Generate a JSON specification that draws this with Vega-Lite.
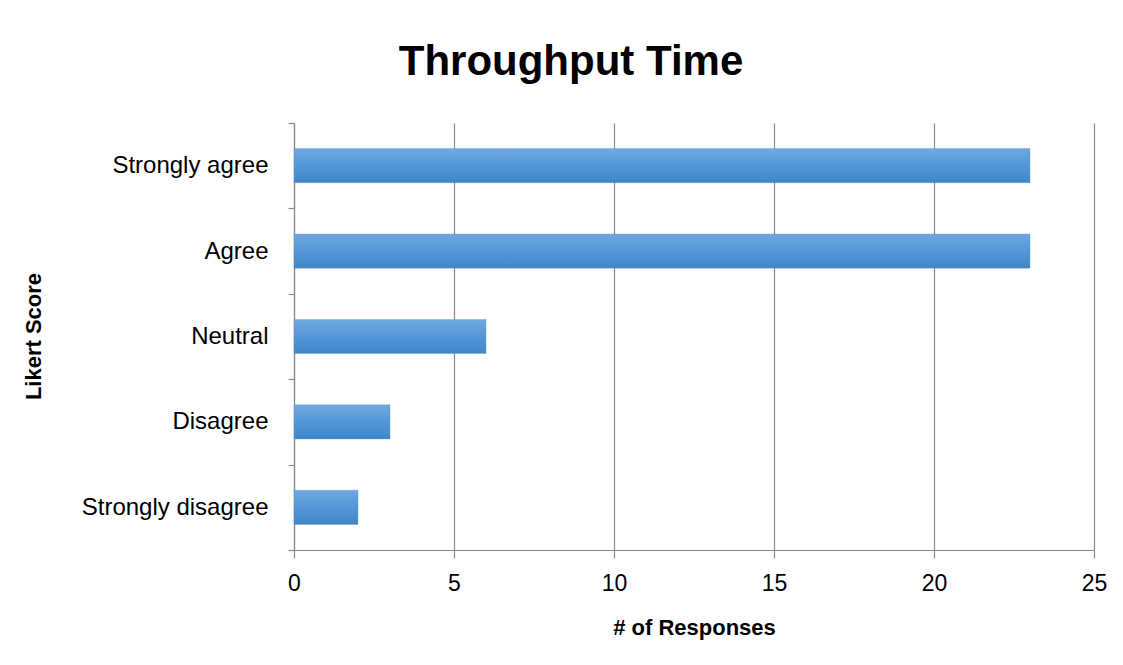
{
  "$schema": "https://vega.github.io/schema/vega-lite/v6.json",
  "autosize": {"type": "none"},
  "width": 800,
  "height": 427,
  "padding": {"left": 294, "top": 123, "right": 29, "bottom": 115},
  "background": "white",
  "title": {
    "text": "Throughput Time",
    "font": "Liberation Sans",
    "fontSize": 42,
    "fontWeight": "bold",
    "color": "black",
    "anchor": "middle",
    "frame": "group",
    "baseline": "alphabetic",
    "offset": -6,
    "dx": -123
  },
  "data": {
    "values": [
      {"score": "Strongly agree", "responses": 23},
      {"score": "Agree", "responses": 23},
      {"score": "Neutral", "responses": 6},
      {"score": "Disagree", "responses": 3},
      {"score": "Strongly disagree", "responses": 2}
    ]
  },
  "mark": {
    "type": "bar",
    "height": {"band": 0.4},
    "color": {
      "gradient": "linear",
      "x1": 0, "y1": 0, "x2": 0, "y2": 1,
      "stops": [
        {"offset": 0, "color": "#70a8de"},
        {"offset": 0.5, "color": "#5497d8"},
        {"offset": 1, "color": "#3f86c9"}
      ]
    },
    "stroke": "#5a8cc0",
    "strokeWidth": 0.5,
    "strokeOpacity": 0.6
  },
  "encoding": {
    "y": {
      "field": "score",
      "type": "nominal",
      "sort": null,
      "scale": {"paddingInner": 0, "paddingOuter": 0},
      "axis": {
        "title": "Likert Score",
        "titleFont": "Liberation Sans",
        "titleFontSize": 22,
        "titleFontWeight": "bold",
        "titleColor": "black",
        "titleX": -261,
        "titleY": 213,
        "titleAlign": "center",
        "titleBaseline": "middle",
        "titleAngle": -90,
        "labelFont": "Liberation Sans",
        "labelFontSize": 24,
        "labelColor": "black",
        "labelPadding": 20,
        "labelLimit": 300,
        "tickBand": "extent",
        "tickSize": 6,
        "tickColor": "#888888",
        "domainColor": "#888888",
        "domainWidth": 1.2,
        "tickWidth": 1.2,
        "grid": false
      }
    },
    "x": {
      "field": "responses",
      "type": "quantitative",
      "scale": {"domain": [0, 25], "nice": false},
      "axis": {
        "values": [0, 5, 10, 15, 20, 25],
        "title": "# of Responses",
        "titleFont": "Liberation Sans",
        "titleFontSize": 22,
        "titleFontWeight": "bold",
        "titleColor": "black",
        "titleY": 77,
        "titleBaseline": "middle",
        "labelFont": "Liberation Sans",
        "labelFontSize": 23,
        "labelColor": "black",
        "labelFlush": false,
        "labelPadding": 14,
        "tickSize": 8,
        "tickColor": "#888888",
        "tickWidth": 1.2,
        "domainColor": "#888888",
        "domainWidth": 1.2,
        "grid": true,
        "gridColor": "#888888",
        "gridWidth": 1.2
      }
    }
  },
  "config": {
    "view": {"stroke": null}
  }
}
